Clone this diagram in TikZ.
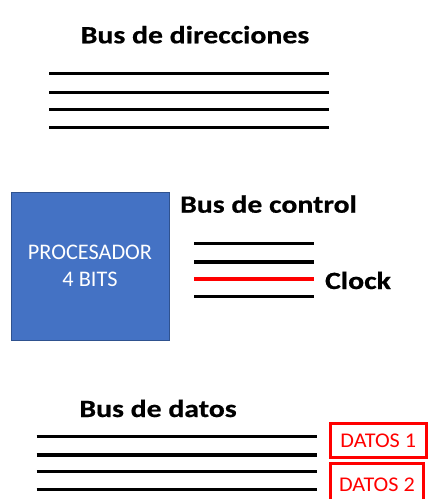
\documentclass[tikz,border=0pt]{standalone}
\usepackage{fontspec}
\setmainfont{Carlito}
\newfontfamily\busfont[FakeStretch=1.2, FakeBold=0.6]{Carlito Bold}
\newfontfamily\datofont[FakeStretch=1.06]{Carlito}
\usetikzlibrary{positioning}
\definecolor{procblue}{HTML}{4472C4}
\definecolor{procedge}{HTML}{2F528F}
\definecolor{clockred}{HTML}{FF0000}
\tikzset{
  buslabel/.style={
    font=\busfont\fontsize{18.6}{22}\selectfont, inner sep=0pt, anchor=base
  },
  busline/.style={line width=2.3pt, black},
  procbox/.style={
    draw=procedge, fill=procblue, text=white, align=center,
    minimum width=118.5pt, minimum height=111pt,
    font=\fontsize{16.7}{20}\selectfont
  },
  datobox/.style={
    draw=clockred, line width=2.2pt, text=clockred, inner sep=0pt,
    font=\datofont\fontsize{15.7}{18}\selectfont
  },
}

\begin{document}
\begin{tikzpicture}[x=0.75pt, y=-0.75pt]
  \useasboundingbox (0,0) rectangle (435,499);
  \clip (0,0) rectangle (435,499);

  % --- Bus de direcciones ---
  \node[buslabel] (dirlabel) at (195,43.3) {Bus de direcciones};
  \foreach \yy in {73.3, 92.3, 109.3, 127.3}
    \draw[busline] (49,\yy) -- (329,\yy);

  % --- Procesador ---
  \node[procbox] (cpu) at (90,266) {PROCESADOR\\4 BITS};

  % --- Bus de control ---
  \node[buslabel] (ctrllabel) at (268.5,212.7) {Bus de control};
  \foreach \yy in {243.3, 262, 296.7}
    \draw[busline] (194,\yy) -- (314,\yy);
  \draw[busline, clockred] (194,279) -- (314,279);
  \node[buslabel] (clocklabel) at (358,289) {Clock};

  % --- Bus de datos ---
  \node[buslabel] (datlabel) at (158,417) {Bus de datos};
  \foreach \yy in {436.7, 455, 471.7, 489.3}
    \draw[busline] (36.7,\yy) -- (316.7,\yy);

  \node[datobox, minimum width=71.8pt, minimum height=26pt] (dato1)
    at (378.3,440.5) {DATOS 1};
  \node[datobox, minimum width=69.8pt, minimum height=31.8pt] (dato2)
    at (377,484.4) {DATOS 2};
\end{tikzpicture}
\end{document}
